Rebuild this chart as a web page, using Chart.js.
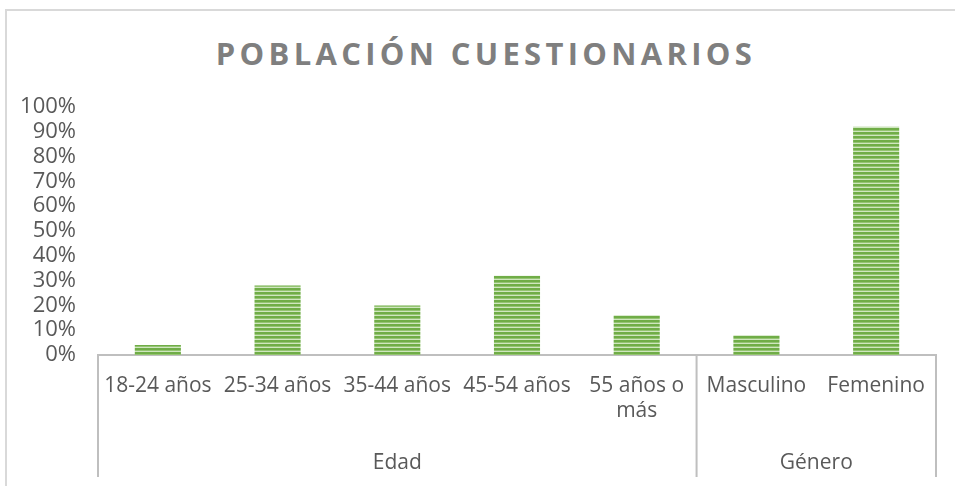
<!DOCTYPE html>
<html>
<head>
<meta charset="utf-8">
<script src="https://cdn.jsdelivr.net/npm/chart.js@4"></script>
<style>
  html, body { margin: 0; padding: 0; background: #fff; overflow: hidden; }
  body { width: 955px; height: 486px; position: relative; }
  #frame {
    position: absolute; left: 5px; top: 9px; width: 1000px; height: 600px;
    border-left: 2px solid #d9d9d9; border-top: 2px solid #d9d9d9;
  }
  #title {
    position: absolute; left: 0; top: 32px; width: 972px; text-align: center;
    font: bold 31px "Open Sans", sans-serif; letter-spacing: 4.3px; color: #7f7f7f;
  }
  #wrap { position: absolute; left: 0; top: 0; width: 955px; height: 486px; }
</style>
</head>
<body>
<div id="frame"></div>
<div id="title">POBLACIÓN CUESTIONARIOS</div>
<div id="wrap"><canvas id="chart"></canvas></div>
<script>
  // ---- Data ------------------------------------------------
  const categories = ['18-24 años', '25-34 años', '35-44 años', '45-54 años', '55 años o más', 'Masculino', 'Femenino'];
  const tickLabels = ['18-24 años', '25-34 años', '35-44 años', '45-54 años', ['55 años o', 'más'], 'Masculino', 'Femenino'];
  const values = [0.04, 0.28, 0.20, 0.32, 0.16, 0.08, 0.92];
  const groupNames = ['Edad', 'Género'];
  const groupSizes = [5, 2];
  const yTicks = [0, 0.1, 0.2, 0.3, 0.4, 0.5, 0.6, 0.7, 0.8, 0.9, 1];

  const FONT = '"Open Sans", sans-serif';
  const AXIS_GRAY = '#bfbfbf';
  const TEXT_GRAY = '#595959';

  // horizontal stripe fill like the Excel pattern
  function stripePattern(ctx) {
    const c = document.createElement('canvas');
    c.width = 4; c.height = 4;
    const p = c.getContext('2d');
    const rows = ['#70ad47', '#70ad47', '#94c472', '#cfe6bf'];
    rows.forEach((col, i) => { p.fillStyle = col; p.fillRect(0, i, 4, 1); });
    return ctx.createPattern(c, 'repeat');
  }

  // group labels + dividers under the category axis
  const groupAxis = {
    id: 'groupAxis',
    afterDraw(chart) {
      const x = chart.scales.x;
      const ctx = chart.ctx;
      const half = (x.getPixelForValue(1) - x.getPixelForValue(0)) / 2;
      const top = x.top;
      const bottom = top + 122;
      ctx.save();
      ctx.strokeStyle = AXIS_GRAY;
      ctx.lineWidth = 2;
      ctx.fillStyle = TEXT_GRAY;
      ctx.font = '21px ' + FONT;
      ctx.textAlign = 'center';
      ctx.textBaseline = 'middle';
      let start = 0;
      groupNames.forEach((name, g) => {
        const left = x.getPixelForValue(start) - half;
        const right = x.getPixelForValue(start + groupSizes[g] - 1) + half;
        ctx.beginPath();
        if (g === 0) { ctx.moveTo(left, top); ctx.lineTo(left, bottom); }
        ctx.moveTo(right, top); ctx.lineTo(right, bottom);
        ctx.stroke();
        ctx.fillText(name, (left + right) / 2, top + 108);
        start += groupSizes[g];
      });
      ctx.restore();
    },
  };

  const canvas = document.getElementById('chart');
  const fill = stripePattern(canvas.getContext('2d'));

  new Chart(canvas, {
    type: 'bar',
    data: {
      labels: categories,
      datasets: [{
        data: values,
        backgroundColor: fill,
        borderWidth: 0,
        barPercentage: 1,
        categoryPercentage: 0.385,
      }],
    },
    options: {
      responsive: true,
      maintainAspectRatio: false,
      animation: false,
      layout: { padding: { top: 107, right: 19, bottom: 0, left: 0 } },
      plugins: { legend: { display: false }, tooltip: { enabled: false } },
      scales: {
        x: {
          grid: { display: false, drawTicks: false },
          border: { display: true, color: AXIS_GRAY, width: 2 },
          ticks: {
            color: TEXT_GRAY,
            font: { family: FONT, size: 21 },
            padding: 18,
            maxRotation: 0,
            autoSkip: false,
            callback: (v, i) => tickLabels[i],
          },
          afterFit: (s) => { s.height = 131; },
        },
        y: {
          min: 0,
          max: 1,
          grid: { display: false, drawTicks: false },
          border: { display: false },
          afterBuildTicks: (s) => { s.ticks = yTicks.map((v) => ({ value: v })); },
          ticks: {
            color: TEXT_GRAY,
            font: { family: FONT, size: 22 },
            padding: 22,
            autoSkip: false,
            callback: (v) => Math.round(v * 100) + '%',
          },
          afterFit: (s) => { s.width = 98; },
        },
      },
    },
    plugins: [groupAxis],
  });
</script>
</body>
</html>
